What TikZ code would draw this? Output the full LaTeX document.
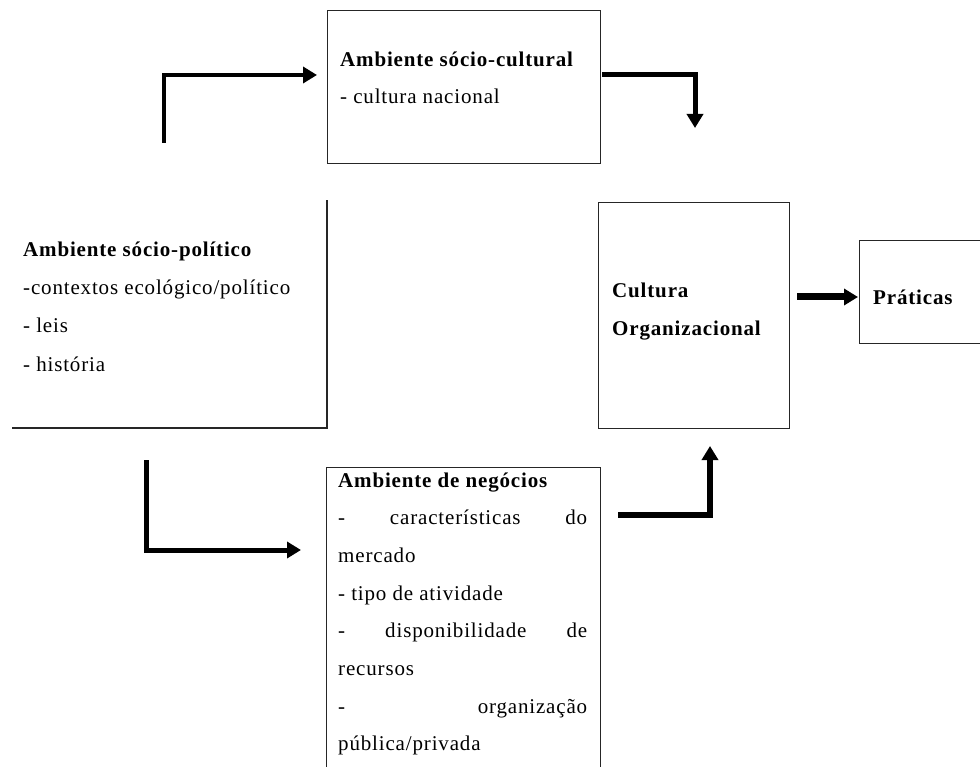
\documentclass[tikz,border=0pt]{standalone}
\usepackage{fontspec}
\setmainfont{Liberation Serif}[LetterSpace=4]
\usetikzlibrary{arrows.meta}
\tikzset{every node/.append style={font=\fontsize{21}{25}\selectfont, inner sep=0pt}}

\begin{document}
\begin{tikzpicture}[x=1pt, y=-1pt,
    box/.style={draw=black!85, line width=1.3pt, anchor=north west},
    flow/.style={line width=5pt, -{Triangle[length=14pt, width=16pt]}}]
    \useasboundingbox (0,0) rectangle (980,767);
    \clip (0,0) rectangle (980,767);
    % boxes
    \draw[black!85, line width=1.3pt] (12,428) -- (327,428) -- (327,200);
    \node[box, minimum width=273, minimum height=153] (cult) at (327,10) {};
    \node[box, minimum width=191, minimum height=226] (org) at (598,202) {};
    \node[box, minimum width=160, minimum height=103] (prat) at (859,240) {};
    \node[box, minimum width=274, minimum height=340] (neg) at (326,467) {};
    % texts
    \node[anchor=base west] (pol-t) at (23,257) {\textbf{Ambiente sócio-político}};
    \foreach \txt [count=\i] in {-contextos ecológico/político, - leis, - história}
        \node[anchor=base west] (pol-\i) at (23,257+38*\i) {\txt};
    \node[anchor=base west] (cult-t) at (340,67) {\textbf{Ambiente sócio-cultural}};
    \node[anchor=base west] (cult-1) at (340,104) {- cultura nacional};
    \node[anchor=base west] (org-1) at (612,298) {\textbf{Cultura}};
    \node[anchor=base west] (org-2) at (612,336) {\textbf{Organizacional}};
    \node[anchor=base west] (prat-t) at (873,305) {\textbf{Práticas}};
    \node[anchor=base west] (neg-t) at (338,487) {\textbf{Ambiente de negócios}};
    \foreach \txt [count=\i] in {\makebox[249pt][s]{- características do}, mercado,
        - tipo de atividade, \makebox[249pt][s]{- disponibilidade de}, recursos,
        \makebox[249pt][s]{- organização}, pública/privada}
        \node[anchor=base west] (neg-\i) at (338,487+37.7*\i) {\txt};
    % arrows
    \coordinate (pol-up) at (164,143);
    \coordinate (cult-in) at (317,75);
    \coordinate (cult-out) at (602,75);
    \coordinate (org-top) at (695,128);
    \coordinate (neg-out) at (618,515);
    \coordinate (org-bot) at (710,446);
    \coordinate (pol-down) at (146,460);
    \coordinate (neg-in) at (301,550);
    \coordinate (org-out) at (797,297);
    \coordinate (prat-in) at (858,297);
    \draw[flow, line width=4pt] (pol-up) |- (cult-in);
    \draw[flow] (cult-out) -| (org-top);
    \draw[flow, line width=6pt] (neg-out) -| (org-bot);
    \draw[flow] (pol-down) |- (neg-in);
    \draw[flow, line width=7pt] (org-out) -- (prat-in);
\end{tikzpicture}
\end{document}
